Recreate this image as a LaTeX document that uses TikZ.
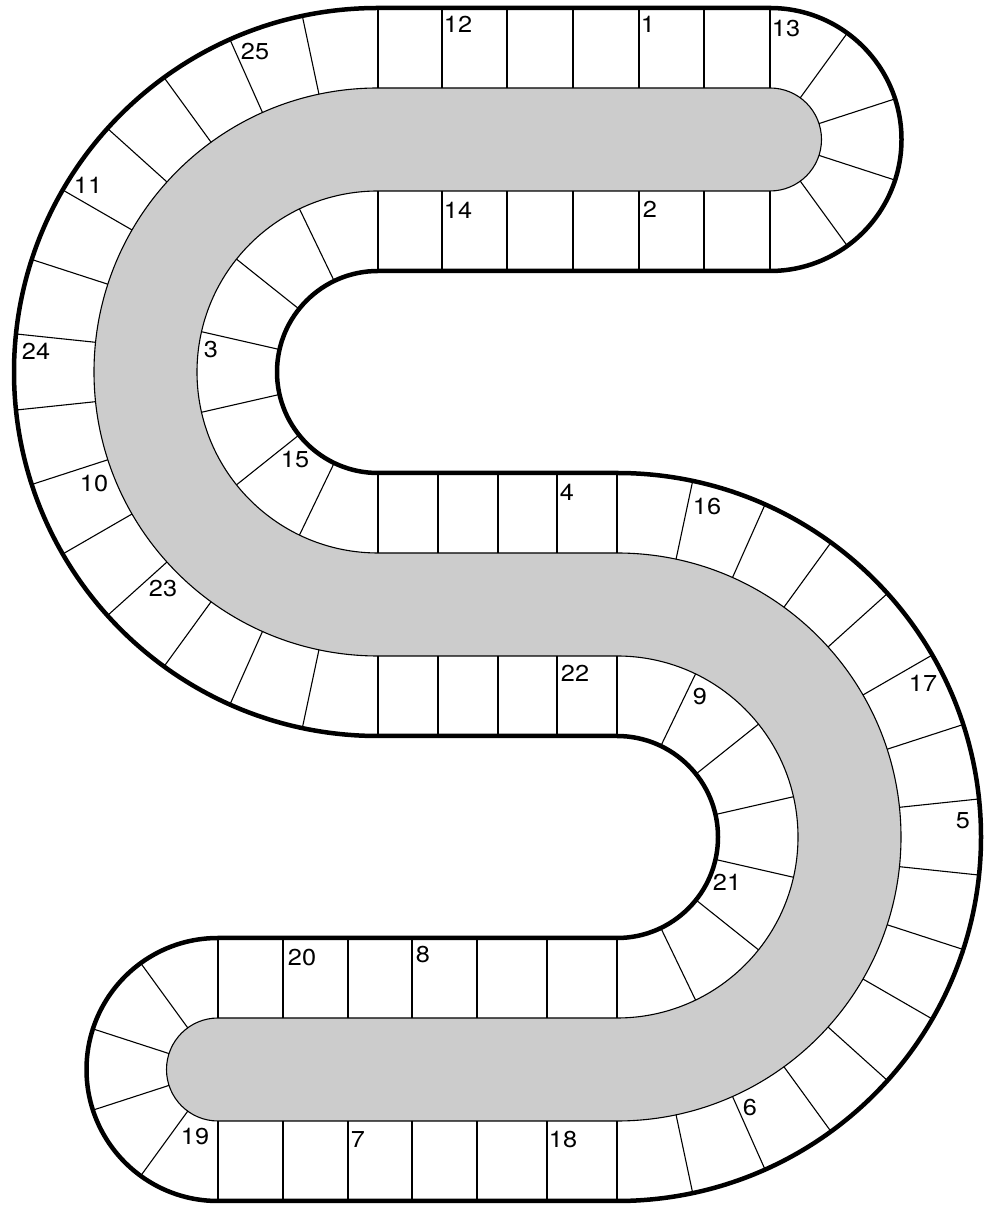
\documentclass[tikz,border=0pt]{standalone}
\usepackage{fontspec}
\setmainfont{TeX Gyre Heros}
\newfontfamily\numfont[FakeStretch=1.1]{TeX Gyre Heros}
\tikzset{
  cellline/.style={line width=1.1pt},
  rim/.style={line width=4.5pt, line join=round},
  num/.style={font=\numfont\fontsize{23}{26}\selectfont, inner sep=0pt}
}

\begin{document}
\begin{tikzpicture}[x=1pt,y=1pt]
  \useasboundingbox (0,0) rectangle (984,1205);
  \draw[cellline, fill=black!20] (770,1117) -- (378,1117) arc[start angle=90, end angle=270, radius=284]
    -- (617,549) arc[start angle=90, end angle=-90, radius=181]
    -- (218,187) arc[start angle=90, end angle=270, radius=51.5]
    -- (617,84) arc[start angle=-90, end angle=90, radius=284]
    -- (378,652) arc[start angle=270, end angle=90, radius=181]
    -- (770,1014) arc[start angle=-90, end angle=90, radius=51.5] -- cycle;
  \foreach \x in {378,442,507,573,639,704,770}
    \draw[cellline] (\x,934) -- (\x,1014) (\x,1117) -- (\x,1197);
  \foreach \x in {378,438,498,557,617}
    \draw[cellline] (\x,469) -- (\x,549) (\x,652) -- (\x,732);
  \foreach \x in {218,283,348,412,477,547,617}
    \draw[cellline] (\x,4) -- (\x,84) (\x,187) -- (\x,267);
  \foreach \a in {54,18,-18,-54}
    \draw[cellline] (770,1065.5) ++(\a:51.5) -- ++(\a:80);
  \foreach \a in {126,162,198,234}
    \draw[cellline] (218,135.5) ++(\a:51.5) -- ++(\a:80);
  \foreach \k [evaluate=\k as \a using 12*\k] in {1,...,14} {
    \draw[cellline] (378,833) ++(90+\a:284) -- ++(90+\a:80);
    \draw[cellline] (617,368) ++(90-\a:284) -- ++(90-\a:80);
  }
  \foreach \k [evaluate=\k as \a using 180*\k/7] in {1,...,6} {
    \draw[cellline] (378,833) ++(90+\a:101) -- ++(90+\a:80);
    \draw[cellline] (617,368) ++(90-\a:101) -- ++(90-\a:80);
  }
  \draw[rim] (770,1197) arc[start angle=90, end angle=-90, radius=131.5]
    -- (378,934) arc[start angle=90, end angle=270, radius=101]
    -- (617,732) arc[start angle=90, end angle=-90, radius=364]
    -- (218,4) arc[start angle=-90, end angle=-270, radius=131.5]
    -- (617,267) arc[start angle=-90, end angle=90, radius=101]
    -- (378,469) arc[start angle=-90, end angle=-270, radius=364] -- cycle;

  \node[num] (n1) at (648,1181) {1};
  \node[num] (n2) at (650,996) {2};
  \node[num] (n3) at (211,855) {3};
  \node[num] (n4) at (567,713) {4};
  \node[num] (n5) at (963,384) {5};
  \node[num] (n6) at (750,97) {6};
  \node[num] (n7) at (358,65) {7};
  \node[num] (n8) at (423,250) {8};
  \node[num] (n9) at (700,508) {9};
  \node[num] (n10) at (94,721) {10};
  \node[num] (n11) at (88,1020) {11};
  \node[num] (n12) at (458,1181) {12};
  \node[num] (n13) at (786,1176) {13};
  \node[num] (n14) at (458,995) {14};
  \node[num] (n15) at (295,745) {15};
  \node[num] (n16) at (707,698) {16};
  \node[num] (n17) at (923,522) {17};
  \node[num] (n18) at (563,65) {18};
  \node[num] (n19) at (195,68) {19};
  \node[num] (n20) at (302,247) {20};
  \node[num] (n21) at (727,323) {21};
  \node[num] (n22) at (575,532) {22};
  \node[num] (n23) at (163,616) {23};
  \node[num] (n24) at (36,854) {24};
  \node[num] (n25) at (255,1153) {25};
\end{tikzpicture}
\end{document}
